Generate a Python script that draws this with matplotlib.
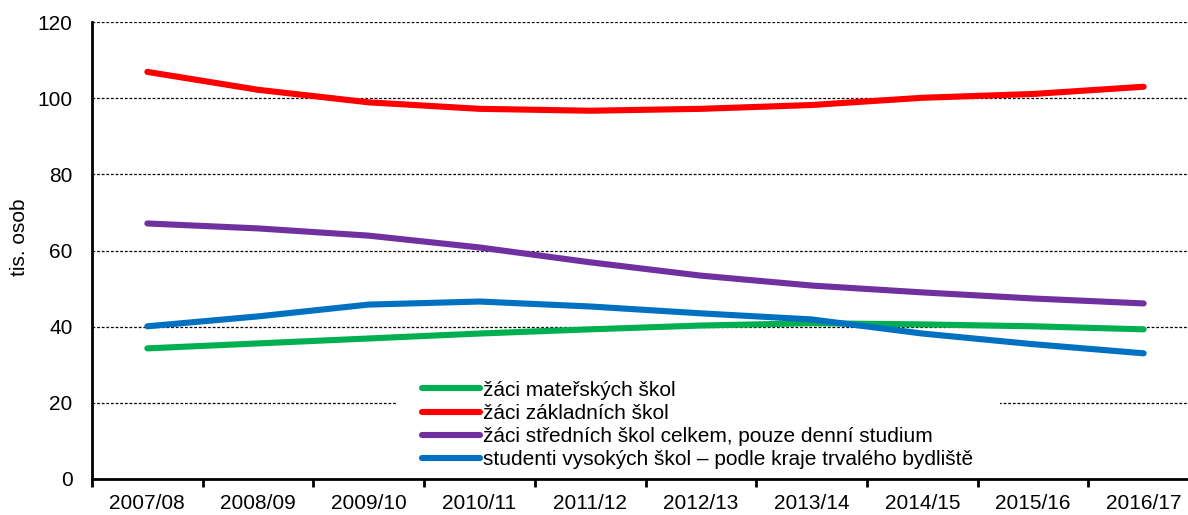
import matplotlib
matplotlib.use('Agg')
from matplotlib import pyplot as plt
from matplotlib.ticker import FixedLocator
from matplotlib.patches import Rectangle
import numpy as np

plt.rcParams['font.family'] = ['Liberation Sans', 'DejaVu Sans']

years = ['2007/08', '2008/09', '2009/10', '2010/11', '2011/12',
         '2012/13', '2013/14', '2014/15', '2015/16', '2016/17']

materske = [34.3, 35.6, 36.9, 38.2, 39.3, 40.3, 40.9, 40.6, 40.1, 39.3]
zakladni = [106.9, 102.2, 98.9, 97.2, 96.7, 97.2, 98.2, 100.1, 101.1, 103.0]
stredni = [67.1, 65.8, 63.9, 60.8, 56.9, 53.4, 50.8, 49.0, 47.4, 46.1]
vysoke = [40.1, 42.7, 45.8, 46.6, 45.3, 43.5, 41.9, 38.2, 35.4, 33.0]

labels = ['žáci mateřských škol',
          'žáci základních škol',
          'žáci středních škol celkem, pouze denní studium',
          'studenti vysokých škol – podle kraje trvalého bydliště']
colors = ['#00B050', '#FF0000', '#7030A0', '#0070C0']

W, H = 1188, 515
fig = plt.figure(figsize=(W / 100, H / 100), dpi=100)
ax = fig.add_axes([92 / W, 36 / H, (1199 - 92) / W, 457 / H])

x = np.arange(len(years))
for vals, lab, col in zip([materske, zakladni, stredni, vysoke], labels, colors):
    ax.plot(x, vals, color=col, lw=4.4, label=lab, zorder=3,
            solid_capstyle='round', solid_joinstyle='round')

ax.set_xlim(-0.5, len(years) - 0.5)
ax.set_ylim(0, 120)
ax.set_yticks(range(0, 121, 20))
ax.set_xticks(x)
ax.set_xticklabels(years)
ax.xaxis.set_minor_locator(FixedLocator(np.arange(-0.5, len(years), 1.0)))
ax.tick_params(axis='x', which='major', length=0, pad=11, labelsize=15)
ax.tick_params(axis='x', which='minor', length=6, width=2, color='black')
ax.tick_params(axis='y', length=0, pad=14, labelsize=15)

ax.grid(axis='y', color='black', lw=0.9, linestyle=(0, (2.2, 1.5)))
ax.set_axisbelow(True)
for s in ['top', 'right']:
    ax.spines[s].set_visible(False)
for s in ['left', 'bottom']:
    ax.spines[s].set_linewidth(2)

ax.set_ylabel('tis. osob', fontsize=15)
ax.yaxis.set_label_coords(-0.057, 0.53)

# white legend area that breaks the gridline at 20
ax.add_patch(Rectangle((0.2755, 0.01), 0.5447, 0.22, transform=ax.transAxes,
                       facecolor='white', edgecolor='none', zorder=1))

leg = ax.legend(loc='upper center', bbox_to_anchor=(0.547, 0.215), fontsize=15,
                frameon=False, handlelength=2.75, handletextpad=0.15,
                labelspacing=0.2, borderpad=0, borderaxespad=0)
for h in leg.get_lines():
    h.set_linewidth(4.4)
    h.set_solid_capstyle('round')

fig.savefig('out.png', dpi=100)
